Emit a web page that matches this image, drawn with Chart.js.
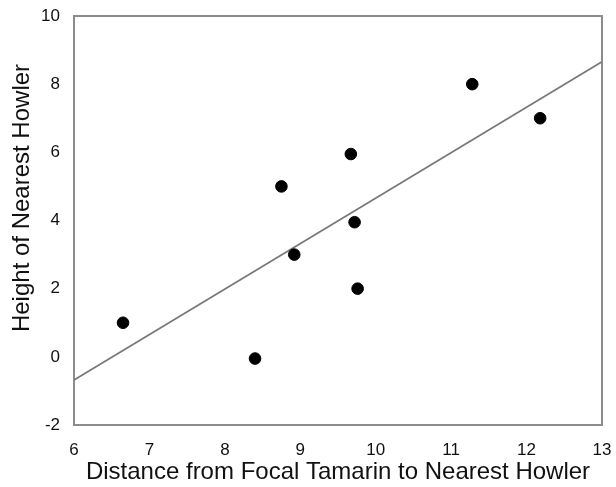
<!DOCTYPE html>
<html>
<head>
<meta charset="utf-8">
<script src="https://cdn.jsdelivr.net/npm/chart.js@4/dist/chart.umd.min.js"></script>
<style>
  html, body { margin: 0; padding: 0; background: #fff; }
  #wrap { width: 616px; height: 487px; }
</style>
</head>
<body>
<div id="wrap"><canvas id="chart" width="616" height="487"></canvas></div>
<script>
// --- Data ---
const distX   = [6.65, 8.40, 8.75, 8.92, 9.67, 9.72, 9.76, 11.28, 12.18];
const heightY = [1.0, -0.05, 5.0, 3.0, 5.95, 3.95, 2.0, 8.0, 7.0];
// fitted trend line end points
const fitX = [6, 13];
const fitY = [-0.68, 8.66];

const xTitle = 'Distance from Focal Tamarin to Nearest Howler';
const yTitle = 'Height of Nearest Howler';

const FONT = '"Liberation Sans", Arial, sans-serif';

const points = distX.map((x, i) => ({ x: x, y: heightY[i] }));
const fitLine = fitX.map((x, i) => ({ x: x, y: fitY[i] }));

// grey frame round the plot area + the y title (sits a bit above centre in the original)
const frame = {
    id: 'frame',
    beforeDatasetsDraw(chart) {
        const { ctx, chartArea: a } = chart;
        ctx.save();
        ctx.strokeStyle = '#8c8c8c';
        ctx.lineWidth = 2;
        ctx.strokeRect(a.left, a.top, a.right - a.left, a.bottom - a.top);
        ctx.restore();
    },
    afterDraw(chart) {
        const ctx = chart.ctx;
        ctx.save();
        ctx.translate(29, 198);
        ctx.rotate(-Math.PI / 2);
        ctx.font = '24px ' + FONT;
        ctx.fillStyle = '#111';
        ctx.textAlign = 'center';
        ctx.textBaseline = 'alphabetic';
        ctx.fillText(yTitle, 0, 0);
        ctx.restore();
    }
};

new Chart(document.getElementById('chart'), {
    type: 'scatter',
    data: {
        datasets: [
            {
                type: 'line',
                data: fitLine,
                borderColor: '#777',
                borderWidth: 1.7,
                pointRadius: 0,
                fill: false,
                order: 2
            },
            {
                data: points,
                backgroundColor: '#000',
                borderColor: '#000',
                pointRadius: 5.8,
                order: 1
            }
        ]
    },
    options: {
        responsive: false,
        animation: false,
        layout: { padding: { top: 16, right: 14, left: 0, bottom: 0 } },
        plugins: { legend: { display: false }, tooltip: { enabled: false } },
        scales: {
            x: {
                type: 'linear',
                min: 6, max: 13,
                grid: { display: false },
                border: { display: false },
                ticks: { stepSize: 1, color: '#111', font: { family: FONT, size: 17 }, padding: 7 },
                title: { display: true, text: xTitle,
                         color: '#111', font: { family: FONT, size: 24 }, padding: { top: 0, bottom: 0 } },
                afterFit(s) { s.height = 62; s.paddingRight = 0; s.paddingLeft = 0; }
            },
            y: {
                min: -2, max: 10,
                grid: { display: false },
                border: { display: false },
                ticks: { stepSize: 2, color: '#111', font: { family: FONT, size: 17 }, padding: 6 },
                afterFit(s) { s.width = 74; s.paddingTop = 0; s.paddingBottom = 0; }
            }
        }
    },
    plugins: [frame]
});
</script>
</body>
</html>
